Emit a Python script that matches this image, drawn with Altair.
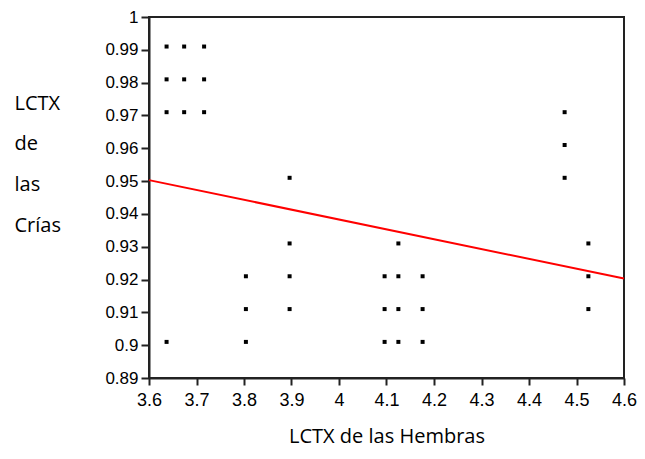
import altair as alt
import pandas as pd

# Scatter data (LCTX de las Hembras vs LCTX de las Crías)
x_vals = [3.637, 3.674, 3.716, 3.637, 3.674, 3.716, 3.637, 3.674, 3.716,
          3.637,
          3.804, 3.804, 3.804,
          3.896, 3.896, 3.896, 3.896,
          4.096, 4.096, 4.096,
          4.125, 4.125, 4.125, 4.125,
          4.176, 4.176, 4.176,
          4.475, 4.475, 4.475,
          4.525, 4.525, 4.525]
y_vals = [0.991, 0.991, 0.991, 0.981, 0.981, 0.981, 0.971, 0.971, 0.971,
          0.901,
          0.901, 0.911, 0.921,
          0.911, 0.921, 0.931, 0.951,
          0.901, 0.911, 0.921,
          0.901, 0.911, 0.921, 0.931,
          0.901, 0.911, 0.921,
          0.951, 0.961, 0.971,
          0.911, 0.921, 0.931]

# Fitted regression line end points
fit_x = [3.6, 4.6]
fit_y = [0.9503, 0.9203]

x_ticks = [3.6, 3.7, 3.8, 3.9, 4.0, 4.1, 4.2, 4.3, 4.4, 4.5, 4.6]
y_ticks = [0.89, 0.90, 0.91, 0.92, 0.93, 0.94, 0.95, 0.96, 0.97, 0.98, 0.99, 1.0]

pts = pd.DataFrame({"x": x_vals, "y": y_vals})
fit = pd.DataFrame({"x": fit_x, "y": fit_y})

xscale = alt.Scale(domain=[3.6, 4.6], nice=False, zero=False)
yscale = alt.Scale(domain=[0.89, 1.0], nice=False, zero=False)

xaxis = alt.Axis(values=x_ticks, tickCount=len(x_ticks) + 2, format="~g",
                 title="LCTX de las Hembras",
                 grid=False, tickSize=7, labelPadding=6,
                 labelOverlap=False, labelFlush=False,
                 labelFont="Liberation Sans", labelFontSize=18, labelColor="black",
                 titleFont="Open Sans", titleFontSize=20, titleFontWeight="normal",
                 titleColor="black", titleY=68, titleBaseline="bottom",
                 domainColor="#222", tickColor="#222", domainWidth=2, tickWidth=2)
yaxis = alt.Axis(values=y_ticks, tickCount=len(y_ticks) + 2, format="~g",
                 title=["LCTX", "de", "las", "Crías"],
                 grid=False, tickSize=8, labelPadding=3,
                 labelOverlap=False, labelFlush=False,
                 labelFont="Liberation Sans", labelFontSize=17, labelColor="black",
                 titleFont="Open Sans", titleFontSize=20, titleFontWeight="normal",
                 titleColor="black", titleAngle=0, titleAlign="left",
                 titleBaseline="alphabetic", titleX=-135, titleY=92,
                 titleLineHeight=40.7,
                 domainColor="#222", tickColor="#222", domainWidth=2, tickWidth=2)

points = alt.Chart(pts).mark_square(size=16, color="black", opacity=1).encode(
    x=alt.X("x:Q", scale=xscale, axis=xaxis),
    y=alt.Y("y:Q", scale=yscale, axis=yaxis),
)

line = alt.Chart(fit).mark_line(color="#ff0000", strokeWidth=2).encode(
    x=alt.X("x:Q", scale=xscale),
    y=alt.Y("y:Q", scale=yscale),
)

chart = alt.layer(points, line).properties(
    width=475, height=361,
    autosize=alt.AutoSizeParams(type="none"),
    padding={"left": 141, "top": 9, "right": 13, "bottom": 69},
    background="white",
).configure_view(stroke="#222", strokeWidth=2)

chart.save("out.html", embed_options={"renderer": "svg", "actions": False})
